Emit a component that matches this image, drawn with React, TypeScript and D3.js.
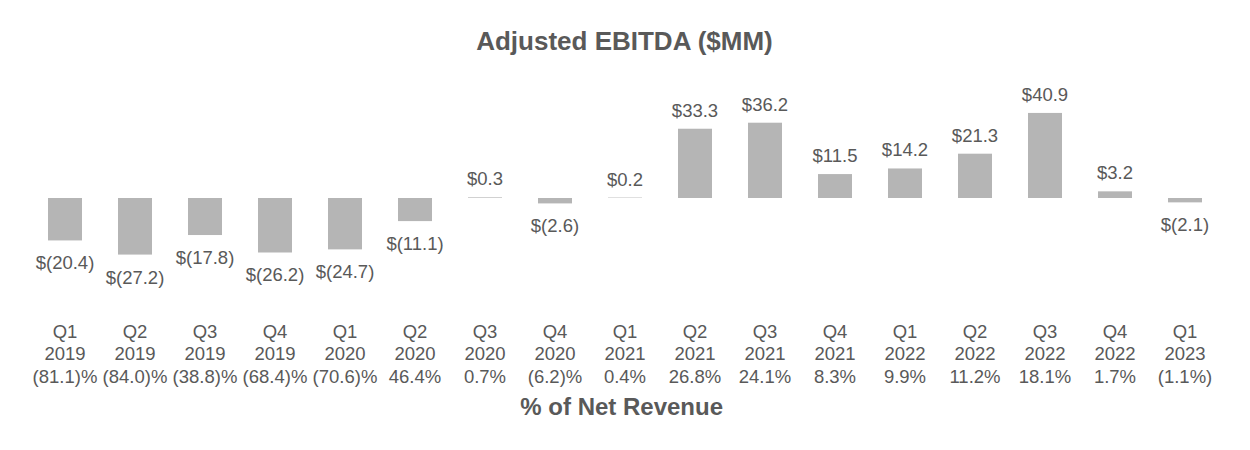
import React from "react";
import * as d3 from "d3";

const quarters = ["Q1","Q2","Q3","Q4","Q1","Q2","Q3","Q4","Q1","Q2","Q3","Q4","Q1","Q2","Q3","Q4","Q1"];
const years = ["2019","2019","2019","2019","2020","2020","2020","2020","2021","2021","2021","2021","2022","2022","2022","2022","2023"];
const pctLabels = ["(81.1)%","(84.0)%","(38.8)%","(68.4)%","(70.6)%","46.4%","0.7%","(6.2)%","0.4%","26.8%","24.1%","8.3%","9.9%","11.2%","18.1%","1.7%","(1.1%)"];
const ebitda = [-20.4,-27.2,-17.8,-26.2,-24.7,-11.1,0.3,-2.6,0.2,33.3,36.2,11.5,14.2,21.3,40.9,3.2,-2.1];

const W = 1250, H = 450;
const FONT = "'Liberation Sans', Arial, sans-serif";
const TEXT = "#595959";
const BAR = "#b5b5b5";

function fmt(v: number) {
  const s = Math.abs(v).toFixed(1);
  return v < 0 ? `$(${s})` : `$${s}`;
}

export default function App() {
  const keys = ebitda.map((_, i) => String(i));
  const x = d3.scaleBand<string>().domain(keys).range([30, 1220]).paddingInner(36 / 70).paddingOuter(18 / 70);
  const y = d3.scaleLinear().domain([-30, 45]).range([260.4, 104.4]);
  const y0 = y(0);
  return (
    <svg width={W} height={H} style={{ position: "absolute", left: 0, top: 0, background: "#fff" }} fontFamily={FONT}>
      <text x={624.5} y={50} textAnchor="middle" fontSize={26} fontWeight="bold" fill={TEXT}>Adjusted EBITDA ($MM)</text>
      {ebitda.map((v, i) => {
        const bx = x(String(i))!;
        const bw = x.bandwidth();
        const cx = bx + bw / 2;
        const top = Math.min(y(v), y0);
        const bottom = Math.max(y(v), y0);
        return (
          <g key={i}>
            <rect x={bx} y={top} width={bw} height={bottom - top} fill={BAR} />
            <text x={cx} y={v >= 0 ? top - 12 : bottom + 29} textAnchor="middle" fontSize={18.5} fill={TEXT}>{fmt(v)}</text>
            <text x={cx} y={337.5} textAnchor="middle" fontSize={18.5} fill={TEXT}>{quarters[i]}</text>
            <text x={cx} y={360} textAnchor="middle" fontSize={18.5} fill={TEXT}>{years[i]}</text>
            <text x={cx} y={382.5} textAnchor="middle" fontSize={18.5} fill={TEXT}>{pctLabels[i]}</text>
          </g>
        );
      })}
      <text x={621.7} y={415} textAnchor="middle" fontSize={24} fontWeight="bold" fill={TEXT}>% of Net Revenue</text>
    </svg>
  );
}
